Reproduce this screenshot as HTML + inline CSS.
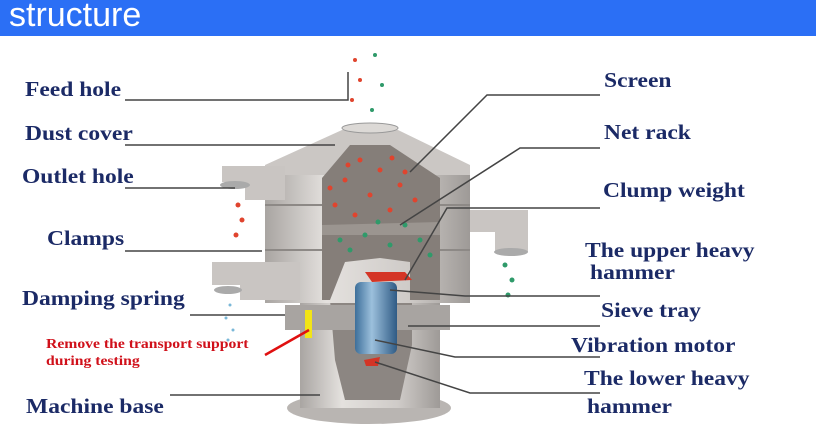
<!DOCTYPE html>
<html><head><meta charset="utf-8"><style>
html,body{margin:0;padding:0;background:#fff;}
#w{position:relative;width:816px;height:431px;overflow:hidden;background:#fff;}
.hd{position:absolute;left:0;top:0;width:816px;height:36px;background:#2b6ff5;}
.hd span{position:absolute;left:9px;top:-4px;color:#fff;font:34px "Liberation Sans",sans-serif;}
.l{position:absolute;font:bold 21px "Liberation Serif",serif;color:#1b2a66;white-space:nowrap;transform:scaleX(1.12);transform-origin:0 0;}
.r{position:absolute;font:bold 14px "Liberation Serif",serif;color:#d0101a;white-space:nowrap;transform:scaleX(1.12);transform-origin:0 0;}
svg{position:absolute;left:0;top:0;}
</style></head><body><div id="w">
<div class="hd"><span>structure</span></div>
<svg width="816" height="431" viewBox="0 0 816 431">
<defs>
<linearGradient id="g" x1="0" x2="1"><stop offset="0" stop-color="#a9a5a2"/><stop offset=".3" stop-color="#e4e1de"/><stop offset=".7" stop-color="#cfcbc8"/><stop offset="1" stop-color="#9e9a97"/></linearGradient>
<linearGradient id="b" x1="0" x2="1"><stop offset="0" stop-color="#3d6f9a"/><stop offset=".4" stop-color="#9cc0dc"/><stop offset="1" stop-color="#2f5b85"/></linearGradient>
</defs>
<ellipse cx="369" cy="408" rx="82" ry="16" fill="#b9b5b2"/>
<rect x="300" y="300" width="140" height="108" fill="url(#g)"/>
<polygon points="330,300 412,300 412,345 400,400 345,400 335,360" fill="#8c8682"/>
<rect x="285" y="305" width="165" height="25" fill="#a8a4a1"/>
<rect x="305" y="310" width="7" height="28" fill="#f2e416"/>
<rect x="265" y="168" width="205" height="135" fill="url(#g)"/>
<line x1="265" y1="205" x2="470" y2="205" stroke="#8d8986" stroke-width="2"/>
<line x1="265" y1="250" x2="470" y2="250" stroke="#8d8986" stroke-width="2"/>
<polygon points="342,130 398,130 470,165 470,175 265,175 265,165" fill="#cbc7c4"/>
<ellipse cx="370" cy="128" rx="28" ry="5" fill="#dcd9d6" stroke="#999"/>
<polygon points="350,145 390,145 440,178 440,300 410,300 410,262 380,258 345,262 330,300 322,300 322,178" fill="#857e79"/>
<polygon points="322,225 440,222 440,235 322,235" fill="#9b9590"/>
<rect x="355" y="282" width="42" height="72" rx="6" fill="url(#b)"/>
<polygon points="365,272 405,272 412,280 372,282" fill="#d43526"/>
<polygon points="364,360 380,357 378,366 366,366" fill="#d43526"/>
<path d="M222,166 H285 V200 H245 V182 H222 Z" fill="#c9c5c2"/>
<ellipse cx="235" cy="185" rx="15" ry="4" fill="#aaa"/>
<path d="M212,262 H300 V300 H240 V285 H212 Z" fill="#c9c5c2"/>
<ellipse cx="228" cy="290" rx="14" ry="4" fill="#aaa"/>
<path d="M470,210 H528 V252 H495 V232 H470 Z" fill="#c9c5c2"/>
<ellipse cx="511" cy="252" rx="17" ry="4" fill="#aaa"/>
<g fill="#e0442e"><circle cx="360" cy="160" r="2.5"/><circle cx="380" cy="170" r="2.5"/><circle cx="345" cy="180" r="2.5"/><circle cx="400" cy="185" r="2.5"/><circle cx="370" cy="195" r="2.5"/><circle cx="335" cy="205" r="2.5"/><circle cx="415" cy="200" r="2.5"/><circle cx="390" cy="210" r="2.5"/><circle cx="355" cy="215" r="2.5"/><circle cx="348" cy="165" r="2.5"/><circle cx="392" cy="158" r="2.5"/><circle cx="405" cy="172" r="2.5"/><circle cx="330" cy="188" r="2.5"/><circle cx="238" cy="205" r="2.5"/><circle cx="242" cy="220" r="2.5"/><circle cx="236" cy="235" r="2.5"/><circle cx="355" cy="60" r="2"/><circle cx="360" cy="80" r="2"/><circle cx="352" cy="100" r="2"/></g>
<g fill="#2f9a6a"><circle cx="340" cy="240" r="2.5"/><circle cx="365" cy="235" r="2.5"/><circle cx="390" cy="245" r="2.5"/><circle cx="420" cy="240" r="2.5"/><circle cx="405" cy="225" r="2.5"/><circle cx="350" cy="250" r="2.5"/><circle cx="378" cy="222" r="2.5"/><circle cx="430" cy="255" r="2.5"/><circle cx="505" cy="265" r="2.5"/><circle cx="512" cy="280" r="2.5"/><circle cx="508" cy="295" r="2.5"/><circle cx="375" cy="55" r="2"/><circle cx="382" cy="85" r="2"/><circle cx="372" cy="110" r="2"/></g>
<g fill="#7ab8d8"><circle cx="230" cy="305" r="1.5"/><circle cx="226" cy="318" r="1.5"/><circle cx="233" cy="330" r="1.5"/><circle cx="228" cy="340" r="1.5"/></g>
<g stroke="#444" stroke-width="1.5" fill="none">
<polyline points="125,100 348,100 348,72"/>
<line x1="125" y1="145" x2="335" y2="145"/>
<line x1="125" y1="188" x2="235" y2="188"/>
<line x1="125" y1="251" x2="262" y2="251"/>
<line x1="190" y1="315" x2="285" y2="315"/>
<line x1="170" y1="395" x2="320" y2="395"/>
<polyline points="600,95 487,95 410,172"/>
<polyline points="600,148 520,148 400,225"/>
<polyline points="600,208 447,208 405,280"/>
<polyline points="390,290 465,296 600,296"/>
<line x1="408" y1="326" x2="600" y2="326"/>
<polyline points="375,340 455,357 600,357"/>
<polyline points="375,362 470,393 600,393"/>
</g>
<line x1="265" y1="355" x2="309" y2="330" stroke="#e01010" stroke-width="2.5"/>
</svg>
<div class="l" style="left:25px;top:77px">Feed hole</div>
<div class="l" style="left:25px;top:121px">Dust cover</div>
<div class="l" style="left:22px;top:164px">Outlet hole</div>
<div class="l" style="left:47px;top:226px">Clamps</div>
<div class="l" style="left:22px;top:286px">Damping spring</div>
<div class="r" style="left:46px;top:337px">Remove the transport support</div>
<div class="r" style="left:46px;top:354px">during testing</div>
<div class="l" style="left:26px;top:394px">Machine base</div>
<div class="l" style="left:604px;top:68px">Screen</div>
<div class="l" style="left:604px;top:120px">Net rack</div>
<div class="l" style="left:603px;top:178px">Clump weight</div>
<div class="l" style="left:585px;top:238px">The upper heavy</div>
<div class="l" style="left:590px;top:260px">hammer</div>
<div class="l" style="left:601px;top:298px">Sieve tray</div>
<div class="l" style="left:571px;top:333px">Vibration motor</div>
<div class="l" style="left:584px;top:366px">The lower heavy</div>
<div class="l" style="left:587px;top:394px">hammer</div>
</div></body></html>
